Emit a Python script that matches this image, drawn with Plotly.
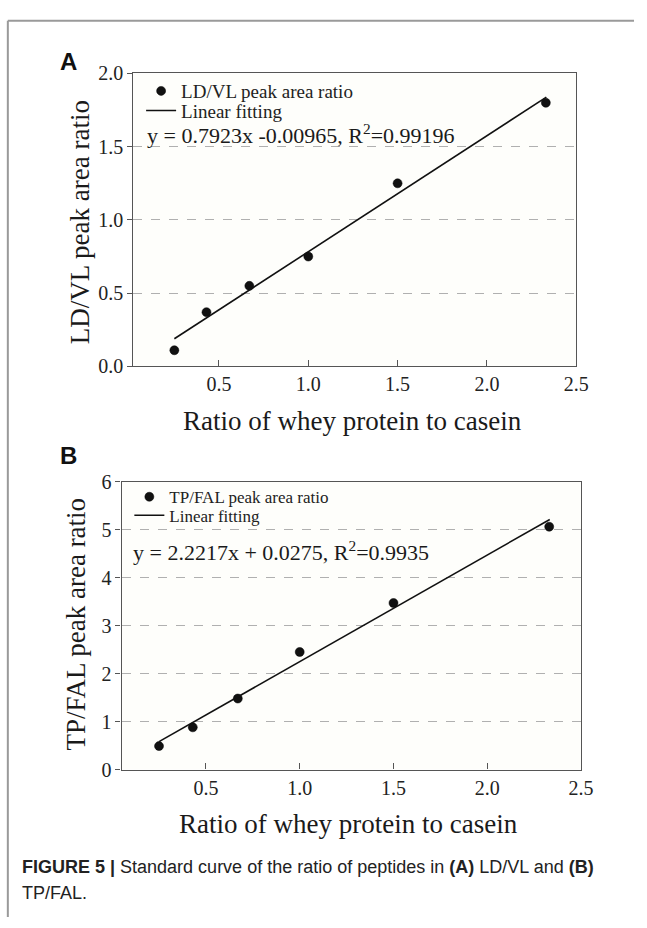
import plotly.graph_objects as go

# ---------------- data ----------------
x_ratio = [0.25, 0.43, 0.67, 1.0, 1.5, 2.33]
ldvl_ratio = [0.11, 0.37, 0.55, 0.75, 1.25, 1.80]
tpfal_ratio = [0.49, 0.88, 1.48, 2.45, 3.47, 5.06]
fit_x = [0.25, 2.333]
slope_a, icpt_a = 0.7923, -0.00965
slope_b, icpt_b = 2.2217, 0.0275
x_ticks = [0.5, 1.0, 1.5, 2.0, 2.5]
x_ticktext = ["0.5", "1.0", "1.5", "2.0", "2.5"]
ya_ticks = [0.0, 0.5, 1.0, 1.5, 2.0]
ya_ticktext = ["0.0", "0.5", "1.0", "1.5", "2.0"]
yb_ticks = [0, 1, 2, 3, 4, 5, 6]
yb_ticktext = ["0", "1", "2", "3", "4", "5", "6"]

W, H = 647, 928
def px(x):
    return x / W
def py(y):
    return 1 - y / H

SERIF = "Liberation Serif, Times New Roman, serif"
SANS = "Liberation Sans Narrow, Arial Narrow, Liberation Sans, Arial, sans-serif"
INK = "#1a1a1a"

fig = go.Figure()

fig.add_trace(go.Scatter(x=x_ratio, y=ldvl_ratio, mode="markers", name="LD/VL peak area ratio",
                         marker=dict(color="#111111", size=9, line=dict(color="#000", width=0.5)),
                         xaxis="x", yaxis="y", legend="legend"))
fig.add_trace(go.Scatter(x=fit_x, y=[slope_a * v + icpt_a for v in fit_x], mode="lines",
                         name="Linear fitting", line=dict(color="#111111", width=1.6),
                         xaxis="x", yaxis="y", legend="legend2"))
fig.add_trace(go.Scatter(x=x_ratio, y=tpfal_ratio, mode="markers", name="TP/FAL peak area ratio",
                         marker=dict(color="#111111", size=9, line=dict(color="#000", width=0.5)),
                         xaxis="x2", yaxis="y2", legend="legend3"))
fig.add_trace(go.Scatter(x=fit_x, y=[slope_b * v + icpt_b for v in fit_x], mode="lines",
                         name="Linear fitting", line=dict(color="#111111", width=1.6),
                         xaxis="x2", yaxis="y2", legend="legend4"))

axis_common = dict(showline=True, linecolor="#555555", linewidth=1.2, mirror=True,
                   zeroline=False, tickfont=dict(family=SERIF, size=20, color="#222"))

def leg(x, y, size):
    return dict(x=px(x), y=py(y), xanchor="left", yanchor="middle", bgcolor="rgba(0,0,0,0)",
                font=dict(family=SERIF, size=size, color="#222"), tracegroupgap=0, itemwidth=30,
                borderwidth=0)

fig.update_layout(
    width=W, height=H, margin=dict(l=0, r=0, t=0, b=0),
    paper_bgcolor="white", plot_bgcolor="#fefefb", showlegend=True,
    xaxis=dict(domain=[px(136), px(588)], range=[0.02, 2.5], tickvals=x_ticks, ticktext=x_ticktext,
               ticks="inside", ticklen=6, tickcolor="#555", showgrid=False, anchor="y", **axis_common),
    yaxis=dict(domain=[py(364), py(64)], range=[0, 2.0], tickvals=ya_ticks, ticktext=ya_ticktext,
               ticks="outside", ticklen=5, tickcolor="#555", showgrid=True, gridcolor="#b0b0b0",
               griddash="dash", gridwidth=1, anchor="x", **axis_common),
    xaxis2=dict(domain=[px(124), px(593)], range=[0.05, 2.5], tickvals=x_ticks, ticktext=x_ticktext,
                ticks="inside", ticklen=6, tickcolor="#555", showgrid=False, anchor="y2", **axis_common),
    yaxis2=dict(domain=[py(777), py(482)], range=[0, 6], tickvals=yb_ticks, ticktext=yb_ticktext,
                ticks="outside", ticklen=5, tickcolor="#555", showgrid=True, gridcolor="#b0b0b0",
                griddash="dash", gridwidth=1, anchor="x2", **axis_common),
    legend=leg(144, 82, 19),
    legend2=leg(144, 102, 19),
    legend3=leg(132, 498, 17),
    legend4=leg(132, 517, 17),
)

# outer frame
fig.add_shape(type="line", xref="paper", yref="paper", x0=px(8), x1=1.0, y0=py(10), y1=py(10),
              line=dict(color="#9a9a9a", width=2))
fig.add_shape(type="line", xref="paper", yref="paper", x0=px(8), x1=px(8), y0=py(10), y1=0,
              line=dict(color="#9a9a9a", width=2))

annos = [
    dict(text="<b>A</b>", x=px(70), y=py(52), font=dict(family="Liberation Sans, Arial", size=24, color="#111")),
    dict(text="<b>B</b>", x=px(70), y=py(455), font=dict(family="Liberation Sans, Arial", size=24, color="#111")),
    dict(text="LD/VL peak area ratio", x=px(82), y=py(216), textangle=-90,
         font=dict(family=SERIF, size=27, color=INK)),
    dict(text="TP/FAL peak area ratio", x=px(78), y=py(628), textangle=-90,
         font=dict(family=SERIF, size=27, color=INK)),
    dict(text="Ratio of whey protein to casein", x=px(360), y=py(420),
         font=dict(family=SERIF, size=27, color=INK)),
    dict(text="Ratio of whey protein to casein", x=px(356), y=py(833),
         font=dict(family=SERIF, size=27, color=INK)),
    dict(text="y = 0.7923x -0.00965, R<sup>2</sup>=0.99196", x=px(148), y=py(126), xanchor="left",
         font=dict(family=SERIF, size=22, color=INK)),
    dict(text="y = 2.2217x + 0.0275, R<sup>2</sup>=0.9935", x=px(134), y=py(553), xanchor="left",
         font=dict(family=SERIF, size=22, color=INK)),
    dict(text="<b>FIGURE 5 |</b> Standard curve of the ratio of peptides in <b>(A)</b> LD/VL and <b>(B)</b>",
         x=px(20), y=py(877), xanchor="left", font=dict(family=SANS, size=18, color="#222")),
    dict(text="TP/FAL.", x=px(20), y=py(903), xanchor="left", font=dict(family=SANS, size=18, color="#222")),
]
for a in annos:
    a.setdefault("xanchor", "center")
    fig.add_annotation(xref="paper", yref="paper", showarrow=False, yanchor="middle", **a)

fig.write_html("out.html")
